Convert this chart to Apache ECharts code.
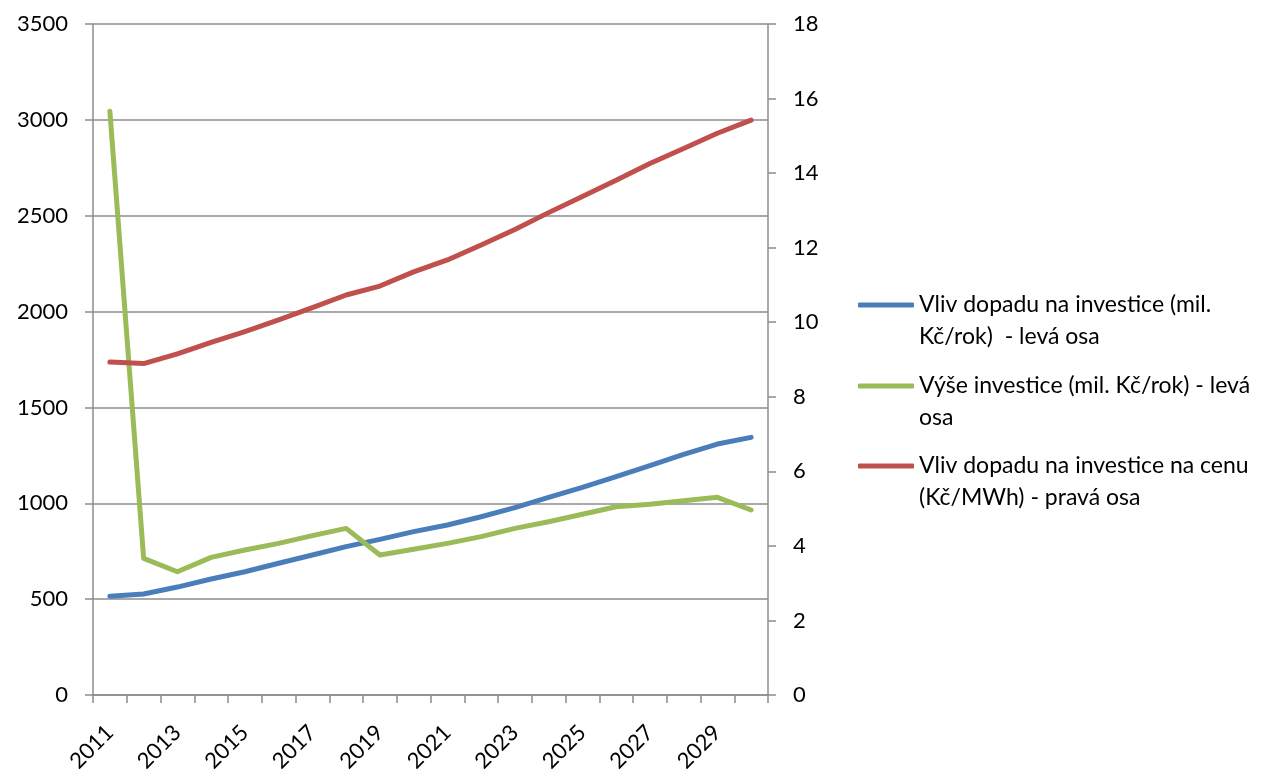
<!DOCTYPE html>
<html>
<head>
<meta charset="utf-8">
<script src="https://cdn.jsdelivr.net/npm/echarts@6/dist/echarts.min.js"></script>
<style>
html,body{margin:0;padding:0;background:#fff;}
#chart{width:1280px;height:779px;}
</style>
</head>
<body>
<div id="chart"></div>
<script>
const years = ['2011','2012','2013','2014','2015','2016','2017','2018','2019','2020','2021','2022','2023','2024','2025','2026','2027','2028','2029','2030'];
const vlivInvestice = [515, 527, 563, 605, 643, 687, 730, 774, 812, 852, 887, 930, 977, 1031, 1083, 1139, 1196, 1255, 1309, 1344];
const vyseInvestice = [3045, 713, 643, 718, 756, 791, 831, 869, 730, 760, 791, 826, 869, 904, 943, 982, 995, 1013, 1031, 965];
const vlivCena = [8.93, 8.89, 9.15, 9.46, 9.75, 10.06, 10.39, 10.73, 10.97, 11.35, 11.67, 12.07, 12.49, 12.94, 13.37, 13.81, 14.26, 14.66, 15.07, 15.42];
const leftTicks = {min: 0, max: 3500, interval: 500};
const rightTicks = {min: 0, max: 18, interval: 2};

const names = [
  'Vliv dopadu na investice (mil. Kč/rok)  - levá osa',
  'Výše investice (mil. Kč/rok) - levá osa',
  'Vliv dopadu na investice na cenu (Kč/MWh) - pravá osa'
];
const legendLines = {};
legendLines[names[0]] = ['Vliv dopadu na investice (mil.', 'Kč/rok)  - levá osa'];
legendLines[names[1]] = ['Výše investice (mil. Kč/rok) - levá', 'osa'];
legendLines[names[2]] = ['Vliv dopadu na investice na cenu', '(Kč/MWh) - pravá osa'];

const FONT = 'Lato';
const gridColor = '#8c8c8c';

function legendFor(name, top) {
  return {
    data: [name],
    left: 858,
    top: top,
    orient: 'vertical',
    padding: 0,
    icon: 'roundRect',
    itemWidth: 56,
    itemHeight: 5,
    formatter: n => '\n' + legendLines[n].join('\n'),
    textStyle: {fontFamily: FONT, fontSize: 23, color: '#000', lineHeight: 32}
  };
}

const chart = echarts.init(document.getElementById('chart'));
chart.setOption({
  animation: false,
  backgroundColor: '#fff',
  grid: {left: 93, right: 512, top: 24, bottom: 84, containLabel: false},
  legend: [legendFor(names[0], 257), legendFor(names[1], 338), legendFor(names[2], 418)],
  xAxis: {
    type: 'category',
    data: years,
    boundaryGap: true,
    axisLine: {lineStyle: {color: gridColor, width: 1.5}},
    axisTick: {show: true, length: 8, alignWithLabel: false, interval: 0, lineStyle: {color: gridColor, width: 1.5}},
    axisLabel: {interval: 1, rotate: 45, margin: 34, fontFamily: FONT, fontSize: 22, color: '#000'},
    splitLine: {show: false}
  },
  yAxis: [
    {
      type: 'value', position: 'left',
      min: leftTicks.min, max: leftTicks.max, interval: leftTicks.interval,
      axisLine: {show: true, lineStyle: {color: gridColor, width: 1.5}},
      axisTick: {show: true, length: 8, lineStyle: {color: gridColor, width: 1.5}},
      axisLabel: {margin: 25, fontFamily: FONT, fontSize: 22, color: '#000', formatter: v => String(v)},
      splitLine: {show: true, lineStyle: {color: gridColor, width: 1.5}}
    },
    {
      type: 'value', position: 'right',
      min: rightTicks.min, max: rightTicks.max, interval: rightTicks.interval,
      axisLine: {show: true, lineStyle: {color: gridColor, width: 1.5}},
      axisTick: {show: true, length: 8, lineStyle: {color: gridColor, width: 1.5}},
      axisLabel: {margin: 25, fontFamily: FONT, fontSize: 22, color: '#000', formatter: v => String(v)},
      splitLine: {show: false}
    }
  ],
  series: [
    {name: names[0], type: 'line', yAxisIndex: 0, data: vlivInvestice, symbol: 'none', color: '#4A7EBB',
     lineStyle: {width: 5, color: '#4A7EBB', cap: 'round', join: 'round'}},
    {name: names[1], type: 'line', yAxisIndex: 0, data: vyseInvestice, symbol: 'none', color: '#9BBB59',
     lineStyle: {width: 5, color: '#9BBB59', cap: 'round', join: 'round'}},
    {name: names[2], type: 'line', yAxisIndex: 1, data: vlivCena, symbol: 'none', color: '#C0504D',
     lineStyle: {width: 5, color: '#C0504D', cap: 'round', join: 'round'}}
  ]
});
</script>
</body>
</html>
